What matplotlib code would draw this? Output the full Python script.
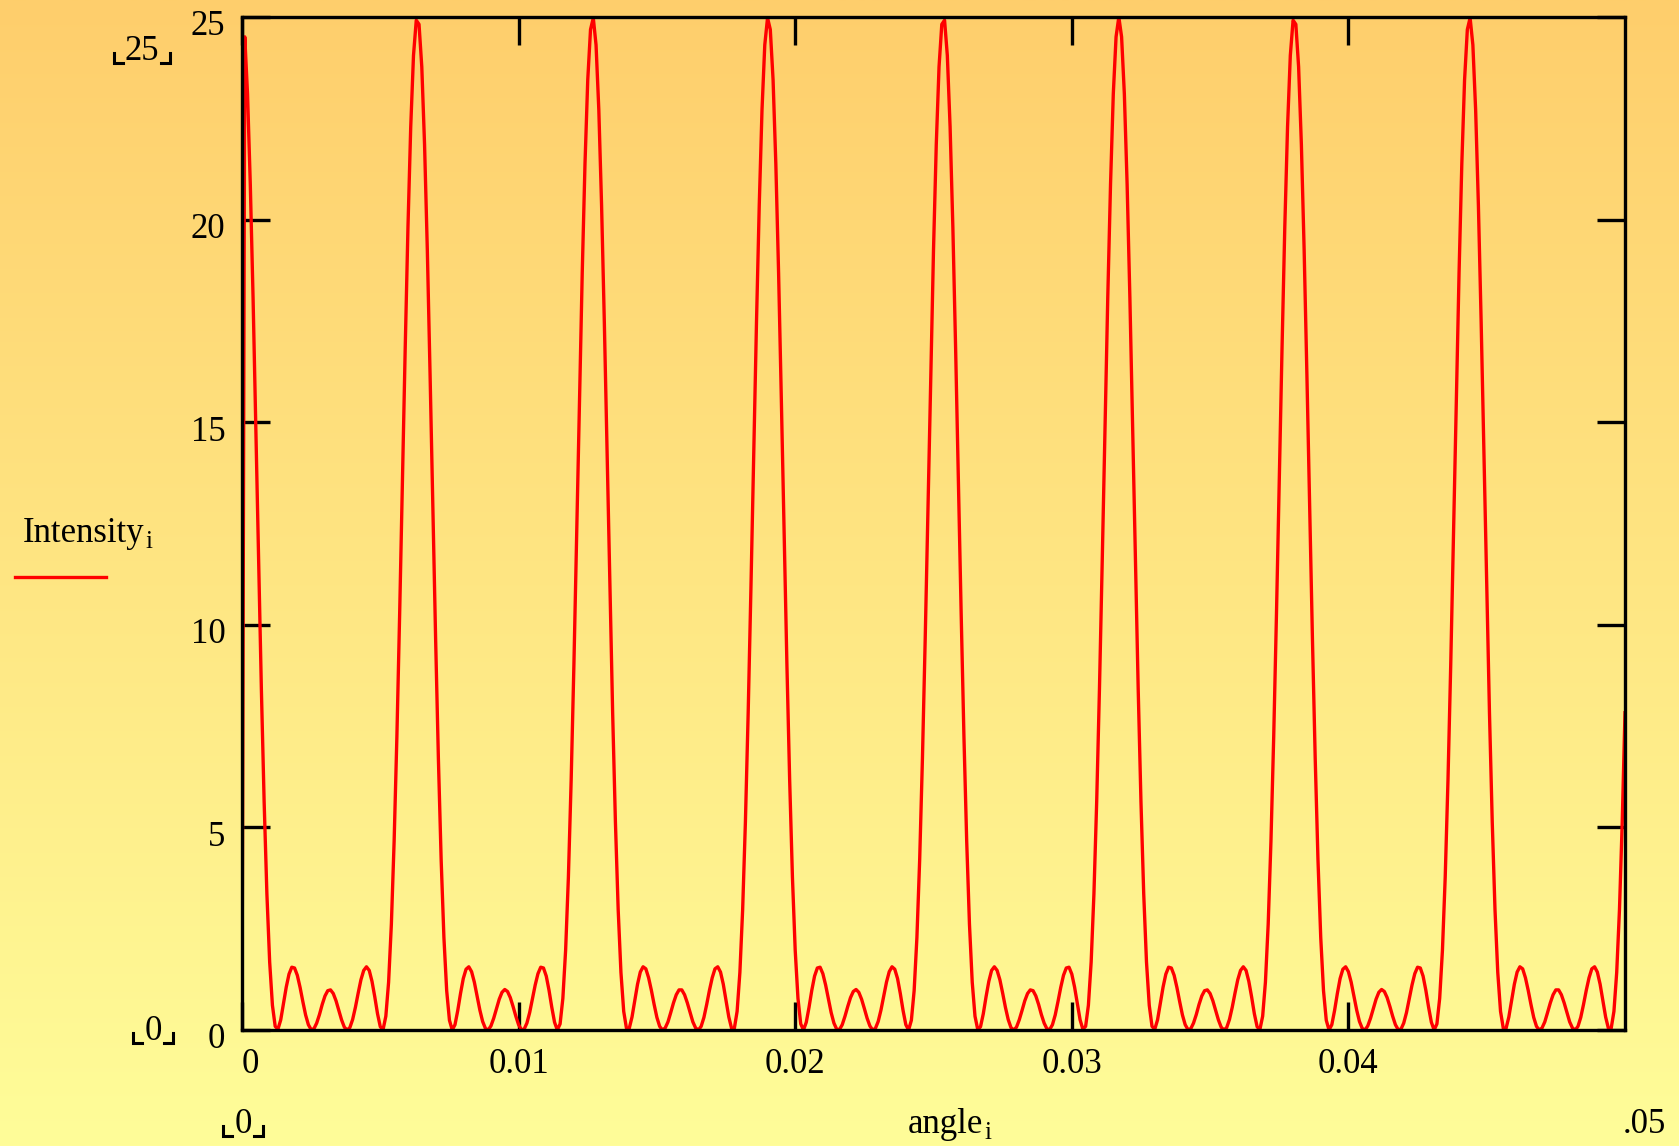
import numpy as np
import matplotlib.pyplot as plt
from matplotlib.lines import Line2D
from matplotlib.transforms import ScaledTranslation

plt.rcParams['font.family'] = ['Liberation Serif', 'DejaVu Serif']

# sample spacing of angle_i (rad)
step = 0.0001

# Intensity_i, one list per principal maximum
period_0 = [0.00, 24.51, 23.10, 20.87, 18.07, 14.86, 11.57, 8.42, 5.64, 3.36, 1.68, 0.61,
            0.09, 0.02, 0.25, 0.65, 1.06, 1.38, 1.55, 1.53, 1.35, 1.05, 0.70, 0.37,
            0.13, 0.01, 0.03, 0.17, 0.38, 0.63, 0.84, 0.97,
            0.99, 0.90, 0.72, 0.48, 0.25, 0.07, 0.00, 0.06, 0.26, 0.56, 0.91, 1.24,
            1.47, 1.56, 1.47, 1.20, 0.82, 0.40, 0.08, 0.01, 0.34, 1.18, 2.61, 4.66,
            7.25, 10.28, 13.54, 16.81, 19.81, 22.29, 24.05, 24.92]
period_1 = [24.82, 23.77, 21.85, 19.25, 16.16, 12.88, 9.65, 6.70, 4.20, 2.28, 0.97, 0.24,
            0.00, 0.13, 0.48, 0.90, 1.27, 1.50, 1.56, 1.44, 1.18, 0.84, 0.49, 0.21,
            0.04, 0.00, 0.10, 0.29, 0.53, 0.76, 0.93, 1.00,
            0.95, 0.80, 0.58, 0.34, 0.13, 0.01, 0.02, 0.17, 0.43, 0.77, 1.11, 1.39,
            1.55, 1.53, 1.33, 0.98, 0.56, 0.19, 0.00, 0.15, 0.78, 1.97, 3.77, 6.16,
            9.03, 12.22, 15.52, 18.67, 21.37, 23.45, 24.69]
period_2 = [24.98, 24.31, 22.71, 20.35, 17.45, 14.20, 10.92, 7.83, 5.14, 2.97, 1.42, 0.46,
            0.04, 0.04, 0.32, 0.73, 1.13, 1.43, 1.56, 1.51, 1.29, 0.98, 0.63, 0.31,
            0.09, 0.00, 0.05, 0.20, 0.43, 0.67, 0.87, 0.99,
            0.99, 0.87, 0.67, 0.43, 0.20, 0.05, 0.00, 0.09, 0.31, 0.63, 0.98, 1.29,
            1.51, 1.56, 1.43, 1.13, 0.73, 0.32, 0.04, 0.04, 0.46, 1.42, 2.97, 5.14,
            7.83, 10.92, 14.20, 17.45, 20.35, 22.71, 24.31, 24.98]
period_3 = [24.69, 23.45, 21.37, 18.67, 15.52, 12.22, 9.03, 6.16, 3.77, 1.97, 0.78, 0.15,
            0.00, 0.19, 0.56, 0.98, 1.33, 1.53, 1.55, 1.39, 1.11, 0.77, 0.43, 0.17,
            0.02, 0.01, 0.13, 0.34, 0.58, 0.80, 0.95,
            1.00, 0.93, 0.76, 0.53, 0.29, 0.10, 0.00, 0.04, 0.21, 0.49, 0.84, 1.18,
            1.44, 1.56, 1.50, 1.27, 0.90, 0.48, 0.13, 0.00, 0.24, 0.97, 2.28, 4.20,
            6.70, 9.65, 12.88, 16.16, 19.25, 21.85, 23.77, 24.82]
period_4 = [24.92, 24.05, 22.29, 19.81, 16.81, 13.54, 10.28, 7.25, 4.66, 2.61, 1.18, 0.34,
            0.01, 0.08, 0.40, 0.82, 1.20, 1.47, 1.56, 1.47, 1.24, 0.91, 0.56, 0.26,
            0.06, 0.00, 0.07, 0.25, 0.48, 0.72, 0.90, 0.99,
            0.97, 0.84, 0.63, 0.38, 0.17, 0.03, 0.01, 0.13, 0.37, 0.70, 1.05, 1.35,
            1.53, 1.55, 1.38, 1.06, 0.65, 0.25, 0.02, 0.09, 0.61, 1.68, 3.36, 5.64,
            8.42, 11.57, 14.86, 18.07, 20.87, 23.10, 24.51]
period_5 = [25.00, 24.51, 23.10, 20.87, 18.07, 14.86, 11.57, 8.42, 5.64, 3.36, 1.68, 0.61,
            0.09, 0.02, 0.25, 0.65, 1.06, 1.38, 1.55, 1.53, 1.35, 1.05, 0.70, 0.37,
            0.13, 0.01, 0.03, 0.17, 0.38, 0.63, 0.84, 0.97,
            0.99, 0.90, 0.72, 0.48, 0.25, 0.07, 0.00, 0.06, 0.26, 0.56, 0.91, 1.24,
            1.47, 1.56, 1.47, 1.20, 0.82, 0.40, 0.08, 0.01, 0.34, 1.18, 2.61, 4.66,
            7.25, 10.28, 13.54, 16.81, 19.81, 22.29, 24.05, 24.92]
period_6 = [24.82, 23.77, 21.85, 19.25, 16.16, 12.88, 9.65, 6.70, 4.20, 2.28, 0.97, 0.24,
            0.00, 0.13, 0.48, 0.90, 1.27, 1.50, 1.56, 1.44, 1.18, 0.84, 0.49, 0.21,
            0.04, 0.00, 0.10, 0.29, 0.53, 0.76, 0.93, 1.00,
            0.95, 0.80, 0.58, 0.34, 0.13, 0.01, 0.02, 0.17, 0.43, 0.77, 1.11, 1.39,
            1.55, 1.53, 1.33, 0.98, 0.56, 0.19, 0.00, 0.15, 0.78, 1.97, 3.77, 6.16,
            9.03, 12.22, 15.52, 18.67, 21.37, 23.45, 24.69]
period_7 = [24.98, 24.31, 22.71, 20.35, 17.45, 14.20, 10.92, 7.83, 5.14, 2.97, 1.42, 0.46,
            0.04, 0.04, 0.32, 0.73, 1.13, 1.43, 1.56, 1.51, 1.29, 0.98, 0.63, 0.31,
            0.09, 0.00, 0.05, 0.20, 0.43, 0.67, 0.87, 0.99,
            0.99, 0.87, 0.67, 0.43, 0.20, 0.05, 0.00, 0.09, 0.31, 0.63, 0.98, 1.29,
            1.51, 1.56, 1.43, 1.13, 0.73, 0.32, 0.04, 0.04, 0.46, 1.42, 2.97, 5.14,
            7.83]

intensity = np.array(period_0 + period_1 + period_2 + period_3 +
                     period_4 + period_5 + period_6 + period_7)
angle = np.arange(len(intensity)) * step

x_ticks = [0, 0.01, 0.02, 0.03, 0.04]
x_labels = ['0', '0.01', '0.02', '0.03', '0.04']
y_ticks = [0, 5, 10, 15, 20, 25]

W, H = 1679, 1146
fig = plt.figure(figsize=(W / 100, H / 100), dpi=100)

# orange -> pale yellow background
bg = fig.add_axes([0, 0, 1, 1], zorder=0)
top = np.array([254, 206, 108]) / 255.
bot = np.array([255, 253, 153]) / 255.
g = np.linspace(0, 1, 512)[:, None, None]
bg.imshow(top + (bot - top) * g, aspect='auto', extent=[0, 1, 0, 1])
bg.axis('off')

ax = fig.add_axes([242 / W, 1 - 1030 / H, 1383 / W, 1013 / H], zorder=1)
ax.patch.set_alpha(0)
ax.plot(angle, intensity, color='#ff0000', lw=2.4)

ax.set_xlim(0, 0.05)
ax.set_ylim(0, 25)
ax.set_xticks(x_ticks)
ax.set_xticklabels(x_labels)
ax.set_yticks(y_ticks)
ax.set_yticklabels([str(v) for v in y_ticks])
for s in ax.spines.values():
    s.set_linewidth(2.4)
ax.tick_params(direction='in', length=20, width=2.4, top=True, right=True,
               labelsize=25, colors='black')
ax.tick_params(axis='x', pad=13)
ax.tick_params(axis='y', pad=12)
shift = ScaledTranslation(0, -6 / 100., fig.dpi_scale_trans)
for lab in ax.get_yticklabels():
    lab.set_transform(lab.get_transform() + shift)
ax.get_xticklabels()[0].set_transform(
    ax.get_xticklabels()[0].get_transform() + ScaledTranslation(8 / 100., 0, fig.dpi_scale_trans))


def txt(x, y, s, ha='left', size=25):
    return fig.text(x / W, 1 - y / H, s, ha=ha, va='baseline', fontsize=size)


# Mathcad axis-limit markers
limits = [txt(142, 60, '25', 'center'), txt(153, 1040, '0', 'center'),
          txt(243, 1133, '0', 'center')]
txt(1623, 1133, '.05')
names = [(txt(908, 1133, 'angle'), 1133), (txt(23, 542, 'Intensity'), 542)]
fig.add_artist(Line2D([15 / W, 106 / W], [1 - 577 / H] * 2, color='#ff0000', lw=2.4))

fig.canvas.draw()
r = fig.canvas.get_renderer()
for t, yb in names:
    bb = t.get_window_extent(r)
    fig.text((bb.x1 + 1) / W, 1 - (yb + 6) / H, 'i', ha='left', va='baseline', fontsize=18)
for t, yb in zip(limits, [60, 1040, 1133]):
    bb = t.get_window_extent(r)
    yb0 = H - yb - 3
    for xa, xb in [(bb.x0 - 11, bb.x0 - 2), (bb.x1 + 11, bb.x1 + 2)]:
        fig.add_artist(Line2D([xa / W, xa / W, xb / W],
                              [(yb0 + 10) / H, yb0 / H, yb0 / H],
                              color='black', lw=2.2, solid_joinstyle='miter'))

fig.savefig('out.png', dpi=100)
